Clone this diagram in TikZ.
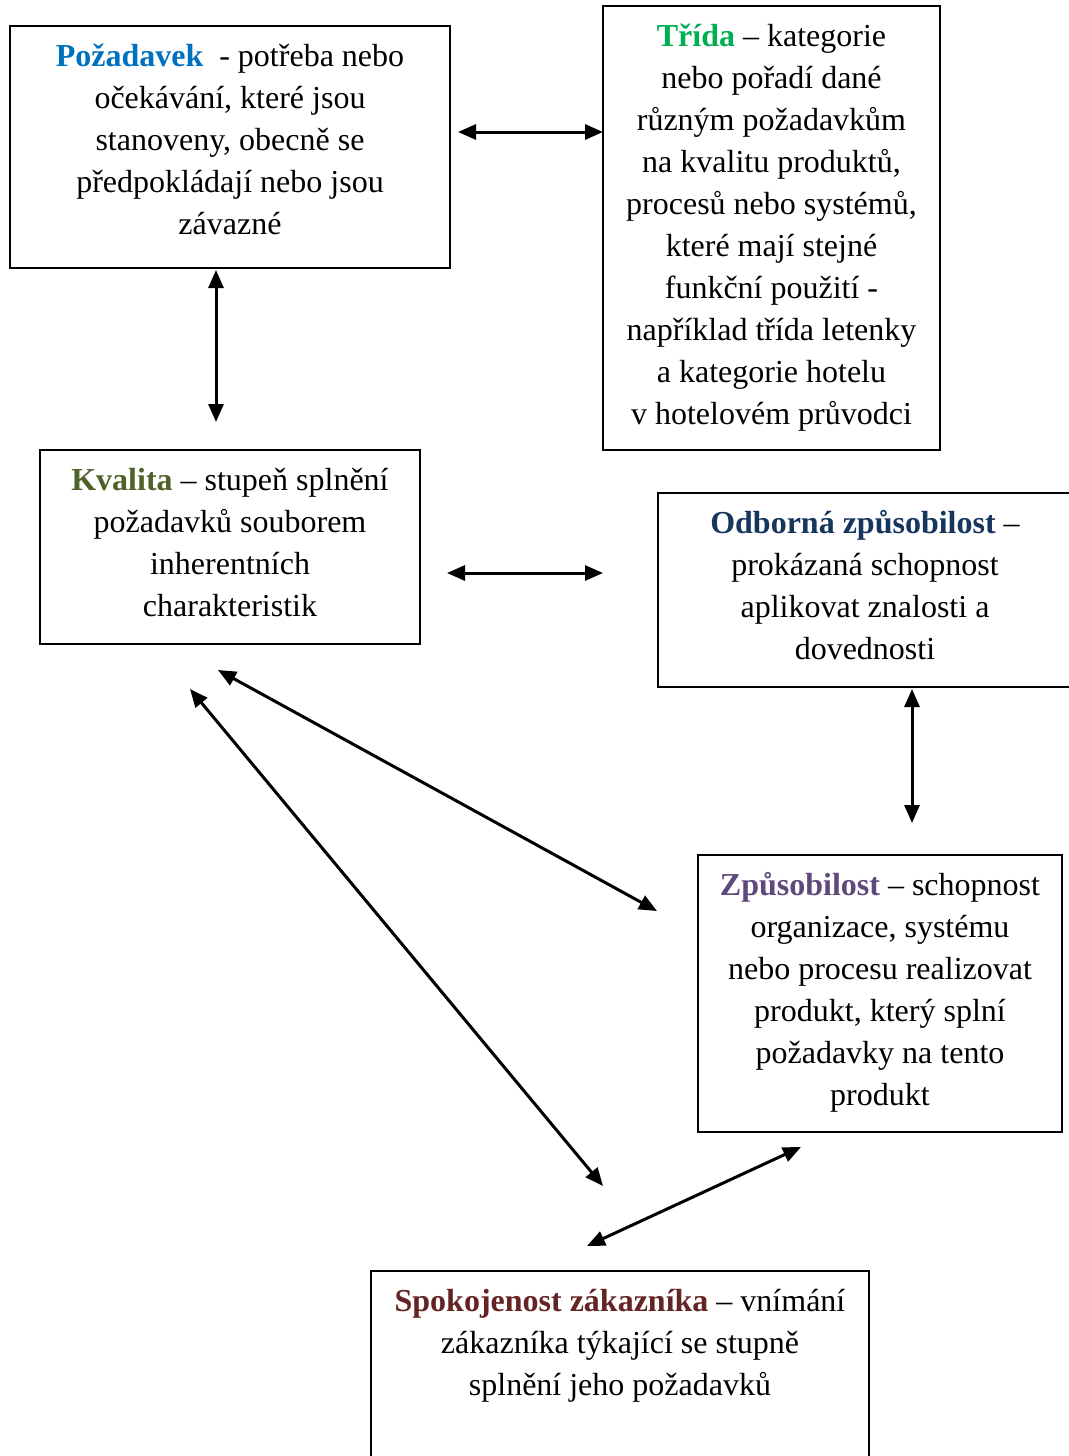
\documentclass[tikz,border=0pt]{standalone}
\usepackage{fontspec}
\setmainfont{Liberation Serif}
\usetikzlibrary{arrows.meta,calc}
\definecolor{cPoz}{HTML}{0070C0}
\definecolor{cTri}{HTML}{00B050}
\definecolor{cKva}{HTML}{4F6228}
\definecolor{cOdb}{HTML}{17365D}
\definecolor{cZpu}{HTML}{5F497A}
\definecolor{cSpo}{HTML}{632423}
\begin{document}
\begin{tikzpicture}[x=1pt,y=-1pt,
  box/.style={draw=black,line width=2pt,inner sep=0pt,outer sep=0pt},
  txt/.style={anchor=north,align=center,inner sep=0pt,font={\fontsize{32}{42}\selectfont}},
  link/.style={line width=3pt,{Triangle[length=18pt,width=15pt]}-{Triangle[length=18pt,width=15pt]}}]
\useasboundingbox (0,0) rectangle (1068,1456);
% boxes
\node[box,minimum width=440pt,minimum height=242pt] (pz) at (230,147) {};
\node[box,minimum width=337pt,minimum height=444pt] (tr) at (771.5,228) {};
\node[box,minimum width=380pt,minimum height=194pt] (kv) at (230,547) {};
\node[box,minimum width=416pt,minimum height=194pt] (od) at (866,590) {};
\node[box,minimum width=364pt,minimum height=277pt] (zp) at (880,993.5) {};
\node[box,minimum width=498pt,minimum height=191pt] (sp) at (620,1366.5) {};
% texts
\node[txt] (tpz) at (230,36.6) {\strut\textbf{\color{cPoz}Požadavek}\ \ - potřeba nebo\\očekávání, které jsou\\stanoveny, obecně se\\předpokládají nebo jsou\\závazné};
\node[txt] (ttr) at (771.5,17) {\strut\textbf{\color{cTri}Třída} – kategorie\\nebo pořadí dané\\různým požadavkům\\na kvalitu produktů,\\procesů nebo systémů,\\které mají stejné\\funkční použití -\\například třída letenky\\a kategorie hotelu\\v hotelovém průvodci};
\node[txt] (tkv) at (230,460.6) {\strut\textbf{\color{cKva}Kvalita} – stupeň splnění\\požadavků souborem\\inherentních\\charakteristik};
\node[txt] (tod) at (865,503.6) {\strut\textbf{\color{cOdb}Odborná způsobilost} –\\prokázaná schopnost\\aplikovat znalosti a\\dovednosti};
\node[txt] (tzp) at (880,865.6) {\strut\textbf{\color{cZpu}Způsobilost} – schopnost\\organizace, systému\\nebo procesu realizovat\\produkt, který splní\\požadavky na tento\\produkt};
\node[txt] (tsp) at (620,1281.6) {\strut\textbf{\color{cSpo}Spokojenost zákazníka} – vnímání\\zákazníka týkající se stupně\\splnění jeho požadavků};
% connectors
\draw[link] ([shift={(8,-15)}]pz.east) -- ([shift={(0,-96)}]tr.west);
\draw[link] ([shift={(-14,2)}]pz.south) -- ([shift={(-14,-28)}]kv.north);
\draw[link] ([shift={(27,26)}]kv.east) -- ([shift={(-55,-17)}]od.west);
\draw[link] ([shift={(46,2)}]od.south) -- ([shift={(32,-32)}]zp.north);
\draw[link] ([shift={(-12,26)}]kv.south) -- ([shift={(-41,-82.5)}]zp.west);
\draw[link] ([shift={(-40,45)}]kv.south) -- ([shift={(-17,-85)}]sp.north);
\draw[link] ([shift={(-79,15)}]zp.south) -- ([shift={(-33,-25)}]sp.north);
\end{tikzpicture}
\end{document}
